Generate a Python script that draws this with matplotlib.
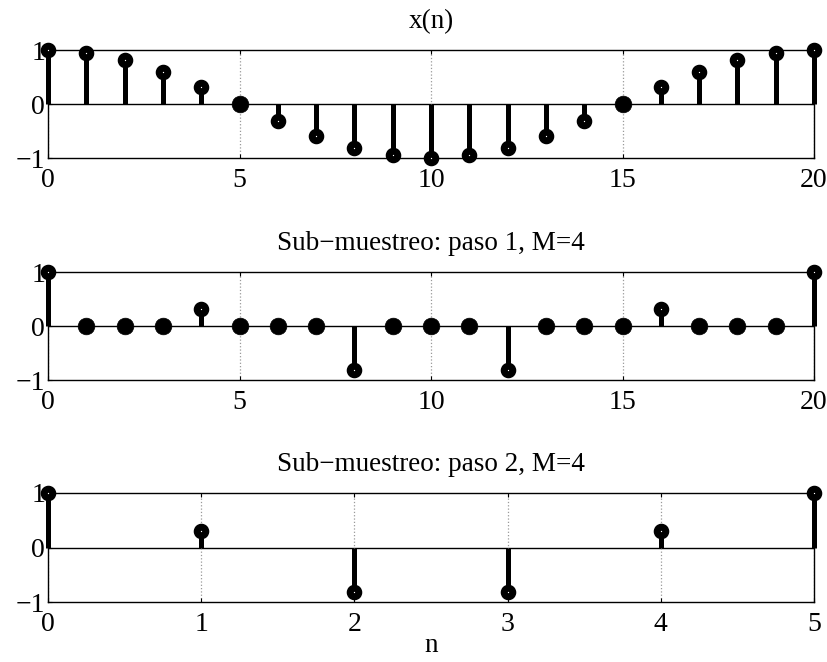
import numpy as np
import matplotlib.pyplot as plt

plt.rcParams['font.family'] = ['Liberation Serif', 'DejaVu Serif']

# x(n)
n_full = list(range(21))
x_full = [1.0, 0.95, 0.81, 0.59, 0.31, 0.0, -0.31, -0.59, -0.81, -0.95, -1.0,
          -0.95, -0.81, -0.59, -0.31, 0.0, 0.31, 0.59, 0.81, 0.95, 1.0]
# step 1: keep every 4th sample, zeros elsewhere
x_step1 = [1.0, 0, 0, 0, 0.31, 0, 0, 0, -0.81, 0, 0, 0, -0.81, 0, 0, 0, 0.31, 0, 0, 0, 1.0]
# step 2: compressed
n_down = list(range(6))
x_step2 = [1.0, 0.31, -0.81, -0.81, 0.31, 1.0]

titles = ['x(n)', 'Sub\u2212muestreo: paso 1, M=4', 'Sub\u2212muestreo: paso 2, M=4']
xticks = [[0, 5, 10, 15, 20], [0, 5, 10, 15, 20], [0, 1, 2, 3, 4, 5]]

fig = plt.figure(figsize=(8.27, 6.62), dpi=100)
W, H = 827, 662
boxes = [(48, 50, 814, 158), (48, 272, 814, 380), (48, 493, 814, 602)]

panels = [(n_full, x_full), (n_full, x_step1), (n_down, x_step2)]
for i, ((n, x), box) in enumerate(zip(panels, boxes)):
    l, t, r, b = box
    ax = fig.add_axes([l / W, 1 - b / H, (r - l) / W, (b - t) / H])
    n = np.array(n)
    x = np.array(x)
    ax.axhline(0, color='black', lw=1.0, zorder=1)
    ax.vlines(n, 0, x, color='black', lw=3.6, zorder=2, clip_on=False)
    nz = x != 0
    ax.plot(n[nz], x[nz], 'o', ms=6.2, mfc='white', mec='black', mew=5.0,
            zorder=3, clip_on=False)
    ax.plot(n[~nz], x[~nz], 'o', ms=12, mfc='black', mec='black', mew=0.5,
            zorder=3, clip_on=False)
    ax.set_xlim(n[0], n[-1])
    ax.set_ylim(-1, 1)
    ax.set_xticks(xticks[i])
    ax.set_yticks([-1, 0, 1])
    ax.set_yticklabels(['\u22121', '0', '1'])
    ax.xaxis.grid(True, ls=':', color='#999999', lw=0.9)
    ax.tick_params(direction='in', length=3, labelsize=20, top=True, right=True)
    ax.tick_params(axis='x', pad=7)
    ax.tick_params(axis='y', pad=2)
    for s in ax.spines.values():
        s.set_linewidth(1.0)
    ax.set_title(titles[i], fontsize=19.5, pad=16)
    if i == 2:
        ax.set_xlabel('n', fontsize=19.5, labelpad=-3)

fig.savefig('out.png', dpi=100)
